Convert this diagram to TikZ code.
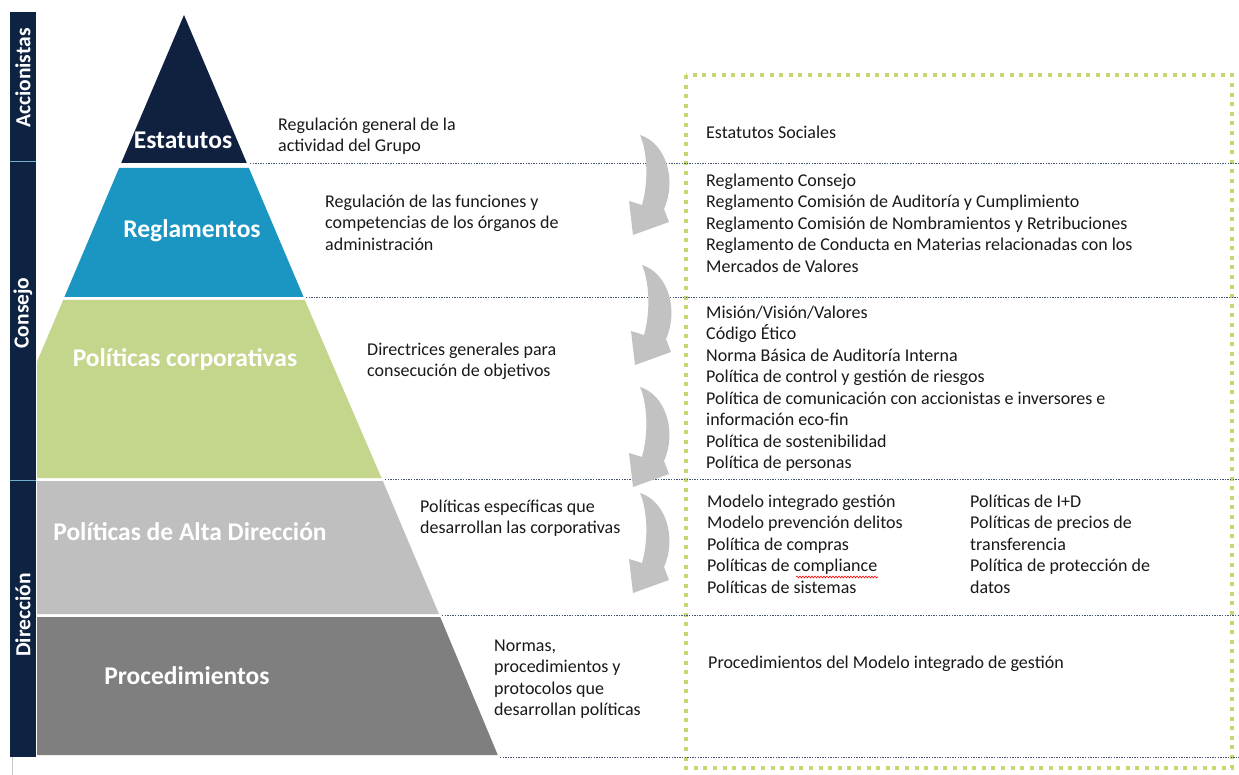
\documentclass[tikz,border=0pt]{standalone}
\usepackage{fontspec}
\setmainfont{Carlito}
\usetikzlibrary{decorations.pathmorphing}
\definecolor{navy}{RGB}{14,35,66}
\definecolor{estnavy}{RGB}{16,33,63}
\definecolor{regblue}{RGB}{27,150,194}
\definecolor{corpgreen}{RGB}{196,214,139}
\definecolor{altagray}{RGB}{191,191,191}
\definecolor{procgray}{RGB}{127,127,127}
\definecolor{arrowgray}{RGB}{194,194,194}
\definecolor{boxgreen}{RGB}{198,215,112}
\definecolor{sepcol}{RGB}{70,85,115}
\definecolor{txtcol}{RGB}{25,25,25}
\definecolor{barline}{RGB}{110,175,205}
\newcommand\topstrut{\rule{0pt}{15pt}}
\begin{document}
\begin{tikzpicture}[x=1pt,y=-1pt,
  lbl/.style={font=\fontsize{25.5}{28}\selectfont\bfseries, text=white, inner sep=0pt},
  barlbl/.style={font=\fontsize{21.5}{24}\selectfont\bfseries, text=white, rotate=90, inner sep=0pt},
  blk/.style={font=\fontsize{18}{21.5}\selectfont, text=txtcol, align=left, anchor=north west, inner sep=0pt},
  sep/.style={sepcol, line width=0.8pt, dash pattern=on 1.3pt off 1.3pt},
  greenbox/.style={boxgreen, line width=4pt, dash pattern=on 4pt off 5.6pt},
  curvarr/.pic={\fill[arrowgray] (0,0) .. controls (26,8) and (37,45) .. (24,74) -- (29,87) -- (-7,100) -- (-11,66) -- (2,70) .. controls (9,45) and (7,16) .. (0,0) -- cycle;}
]
\useasboundingbox (0,0) rectangle (1239,775);
\fill[white] (0,0) rectangle (1239,775);

% left bar
\fill[navy] (10,12) rectangle (36,757);
\draw[barline, line width=0.8pt] (10,161) -- (36,161);
\draw[barline, line width=0.8pt] (10,480) -- (36,480);
\draw[gray!45, line width=1pt] (12,757) -- (12,775);
\node[barlbl] (accion) at (23,78) {Accionistas};
\node[barlbl] (consejo) at (23,313) {Consejo};
\node[barlbl] (direc) at (23,615) {Dirección};

% pyramid
\begin{scope}
\clip (37,0) rectangle (1239,775);
\fill[estnavy] (184,15) -- (246.8,163) -- (121.2,163) -- cycle;
\fill[regblue] (119.1,168) -- (248.9,168) -- (303.6,297) -- (64.4,297) -- cycle;
\fill[corpgreen] (63.2,300) -- (304.8,300) -- (381.5,478) -- (-12.3,478) -- cycle;
\fill[altagray] (-13.6,481) -- (382.8,481) -- (439,614) -- (-70,614) -- cycle;
\fill[procgray] (-71.2,617) -- (440.2,617) -- (497.8,755) -- (-129.8,755) -- cycle;
\end{scope}

\node[lbl] (estatutos) at (183,140) {Estatutos};
\node[lbl] (reglamentos) at (192,231) {Reglamentos};
\node[lbl] (corp) at (185,360) {Políticas corporativas};
\node[lbl] (alta) at (190,532) {Políticas de Alta Dirección};
\node[lbl] (proc) at (187,676) {Procedimientos};

% green dotted frame
\draw[greenbox] (686,75) rectangle (1232,768);

% separators
\draw[sep] (250,163) -- (1239,163);
\draw[sep] (306,297) -- (1239,297);
\draw[sep] (385,479) -- (1239,479);
\draw[sep] (442,615) -- (1239,615);
\draw[sep] (500,757) -- (1239,757);

% curved arrows
\pic (arr1) at (640,135) {curvarr};
\pic (arr2) at (642,265) {curvarr};
\pic (arr3) at (640,387) {curvarr};
\pic (arr4) at (640,493) {curvarr};

% descriptions
\node[blk] (d1) at (278,115) {\topstrut Regulación general de la\\actividad del Grupo};
\node[blk] (d2) at (325,192) {\topstrut Regulación de las funciones y\\competencias de los órganos de\\administración};
\node[blk] (d3) at (367,340) {\topstrut Directrices generales para\\consecución de objetivos};
\node[blk] (d4) at (420,497) {\topstrut Políticas específicas que\\desarrollan las corporativas};
\node[blk] (d5) at (494,636) {\topstrut Normas,\\procedimientos y\\protocolos que\\desarrollan políticas};

% right column contents
\node[blk] (r1) at (706,123) {\topstrut Estatutos Sociales};
\node[blk] (r2) at (706,171) {\topstrut Reglamento Consejo\\Reglamento Comisión de Auditoría y Cumplimiento\\Reglamento Comisión de Nombramientos y Retribuciones\\Reglamento de Conducta en Materias relacionadas con los\\Mercados de Valores};
\node[blk] (r3) at (706,303) {\topstrut Misión/Visión/Valores\\Código Ético\\Norma Básica de Auditoría Interna\\Política de control y gestión de riesgos\\Política de comunicación con accionistas e inversores e\\información eco-fin\\Política de sostenibilidad\\Política de personas};
\node[blk] (r4a) at (707,492) {\topstrut Modelo integrado gestión\\Modelo prevención delitos\\Política de compras\\Políticas de compliance\\Políticas de sistemas};
\node[blk] (r4b) at (970,492) {\topstrut Políticas de I+D\\Políticas de precios de\\transferencia\\Política de protección de\\datos};
\node[blk] (r5) at (708,653) {\topstrut Procedimientos del Modelo integrado de gestión};

% spell-check squiggle
\coordinate (sq1) at (796,577);
\coordinate (sq2) at (878,577);
\draw[red, line width=0.6pt, decorate, decoration={snake, amplitude=0.9pt, segment length=3pt}] (sq1) -- (sq2);
\end{tikzpicture}
\end{document}
